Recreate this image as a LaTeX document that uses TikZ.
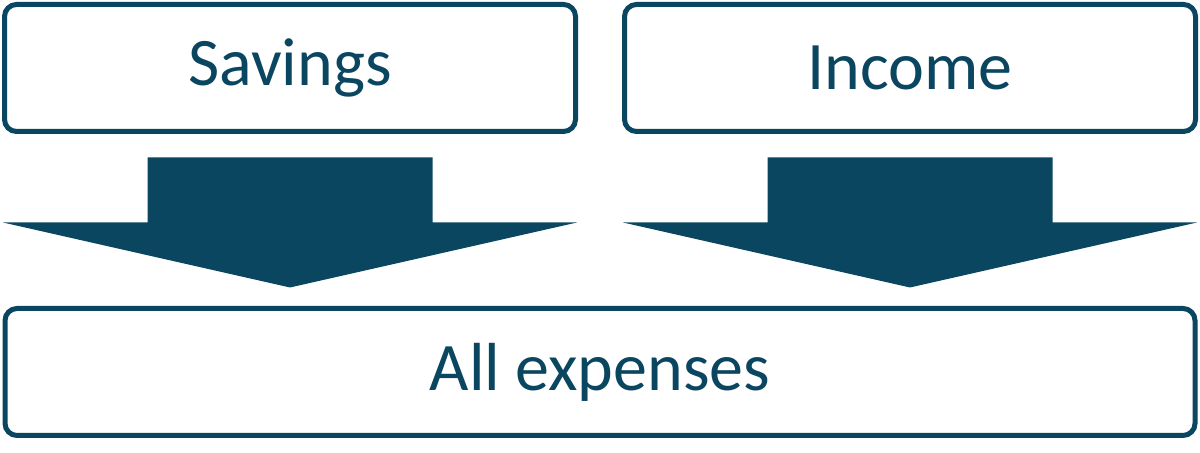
\documentclass[tikz,border=0pt]{standalone}
\usepackage{fontspec}
\setmainfont{Carlito}
\usetikzlibrary{calc}
\definecolor{petrol}{RGB}{11,70,96}
\tikzset{
  box/.style={draw=petrol, line width=2.5pt, rounded corners=6pt, fill=white,
    text=petrol, font=\fontsize{34}{40}\selectfont, inner sep=0pt},
  fatarrow/.style={fill=petrol, draw=none}
}
\begin{document}
\begin{tikzpicture}[x=0.5pt, y=-0.5pt]
      \useasboundingbox (0,0) rectangle (1200,453);

      \node[box, minimum width=285.5pt, minimum height=63.5pt] (savings) at (290,68) {Savings};
      \node[box, minimum width=285.5pt, minimum height=63.5pt] (income) at (910,68) {Income};
      \node[box, minimum width=595pt, minimum height=63.5pt] (expenses) at (600,372) {All expenses};

      \foreach \n in {savings,income} {
        \fill[fatarrow]
          ($(\n.south)+(-142.5,23.5)$) -- ($(\n.south)+(142.5,23.5)$) --
          ($(\n.south)+(142.5,88.5)$) -- ($(\n.south)+(287,88.5)$) --
          ($(\n.south)+(0,153.5)$) --
          ($(\n.south)+(-287,88.5)$) -- ($(\n.south)+(-142.5,88.5)$) -- cycle;
      }
    \end{tikzpicture}
\end{document}
